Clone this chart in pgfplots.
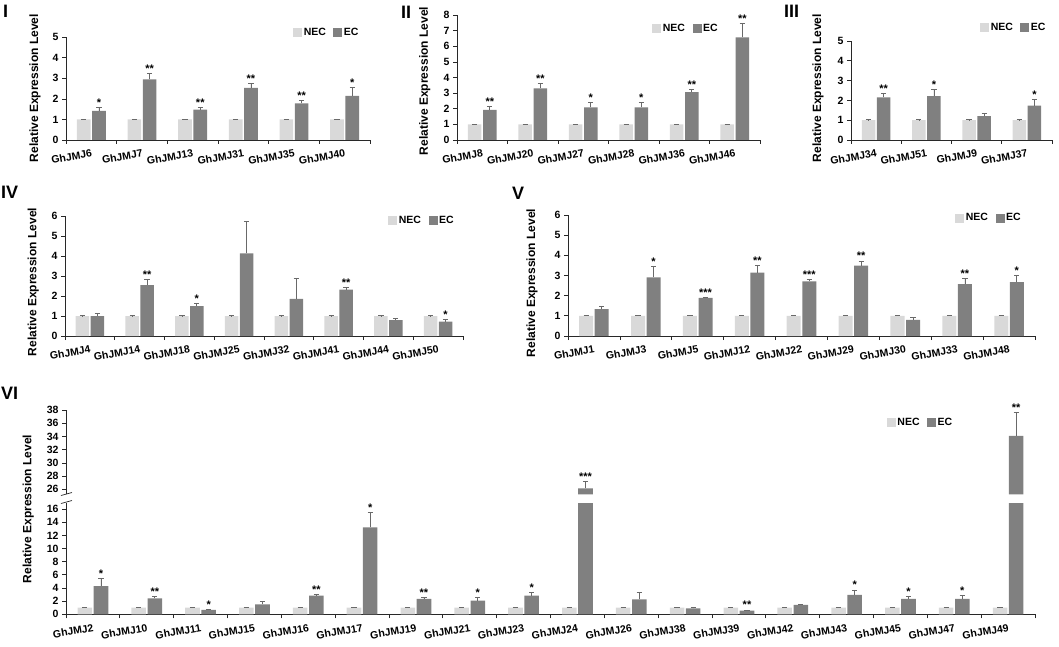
\documentclass[border=0pt]{standalone}
\usepackage{pgfplots}
\pgfplotsset{compat=1.18}
\usepackage{pgfplotstable}
\usepackage{fontspec}
\setmainfont{Liberation Sans}
\definecolor{necc}{RGB}{217,217,217}
\definecolor{ecc}{RGB}{128,128,128}
\definecolor{errc}{RGB}{105,105,105}
\definecolor{axc}{RGB}{40,40,40}

\pgfplotstableread{
x nec necerr ec ecerr sig
0 1 0.02 1.42 0.16 *
1 1 0.02 2.95 0.29 **
2 1 0.02 1.48 0.10 **
3 1 0.02 2.54 0.21 **
4 1 0.02 1.78 0.13 **
5 1 0.02 2.15 0.41 *
}\tabI
\pgfplotstableread{
x nec necerr ec ecerr sig
0 1 0.02 1.92 0.21 **
1 1 0.02 3.30 0.32 **
2 1 0.02 2.09 0.32 *
3 1 0.02 2.09 0.32 *
4 1 0.02 3.07 0.17 **
5 1 0.02 6.57 0.90 **
}\tabII
\pgfplotstableread{
x nec necerr ec ecerr sig
0 1 0.02 2.15 0.21 **
1 1 0.02 2.21 0.33 *
2 1 0.02 1.21 0.14 {}
3 1 0.02 1.73 0.32 *
}\tabIII
\pgfplotstableread{
x nec necerr ec ecerr sig
0 1 0.02 1.00 0.12 {}
1 1 0.02 2.54 0.29 **
2 1 0.02 1.49 0.13 *
3 1 0.02 4.13 1.62 {}
4 1 0.02 1.86 1.02 {}
5 1 0.02 2.32 0.12 **
6 1 0.02 0.79 0.11 {}
7 1 0.02 0.72 0.10 *
}\tabIV
\pgfplotstableread{
x nec necerr ec ecerr sig
0 1 0.02 1.33 0.15 {}
1 1 0.02 2.91 0.53 *
2 1 0.02 1.89 0.04 ***
3 1 0.02 3.14 0.35 **
4 1 0.02 2.71 0.10 ***
5 1 0.02 3.49 0.23 **
6 1 0.02 0.80 0.13 {}
7 1 0.02 2.57 0.29 **
8 1 0.02 2.67 0.34 *
}\tabV
\pgfplotstableread{
x nec necerr ec ecerr sig sigu
0 1 0.05 4.30 1.12 * {}
1 1 0.05 2.43 0.25 ** {}
2 1 0.05 0.66 0.10 * {}
3 1 0.05 1.52 0.40 {} {}
4 1 0.05 2.84 0.20 ** {}
5 1 0.05 13.20 2.30 * {}
6 1 0.05 2.33 0.20 ** {}
7 1 0.05 2.08 0.50 * {}
8 1 0.05 2.84 0.45 * {}
9 1 0.05 26.15 1.05 {} ***
10 1 0.05 2.28 1.01 {} {}
11 1 0.05 0.91 0.15 {} {}
12 1 0.05 0.56 0.10 ** {}
13 1 0.05 1.42 0.10 {} {}
14 1 0.05 2.94 0.76 * {}
15 1 0.05 2.33 0.35 * {}
16 1 0.05 2.33 0.51 * {}
17 1 0.05 34.07 3.53 {} **
}\tabVI

\pgfplotsset{
  jmj/.style={
    scale only axis, axis lines*=left, tick align=outside,
    ymin=0, xmin=-0.5, enlargelimits=false, clip mode=individual,
    axis line style={line width=0.7pt, axc},
    every tick/.style={axc, line width=0.7pt},
    major tick length=4pt, minor tick length=4pt,
    ytick pos=left, xtick pos=bottom,
    major x tick style={draw=none},
    tick label style={font=\fontsize{10.5}{12}\selectfont\bfseries},
    /pgf/number format/assume math mode=true,
    xticklabel style={rotate=10, anchor=north east, inner sep=1pt, yshift=-4pt},
    ylabel={Relative Expression Level},
    label style={font=\fontsize{12}{14}\selectfont\bfseries},
    ylabel style={anchor=center},
    legend style={draw=none, fill=none, anchor=west, inner sep=0pt,
      font=\fontsize{10.5}{12}\selectfont\bfseries,
      nodes={inner sep=1.5pt},
      /tikz/every even column/.append style={column sep=6pt}},
    legend columns=2,
    legend image code/.code={\fill[##1] (0pt,-4.5pt) rectangle (9pt,4.5pt);},
  },
  errsty/.style={error bars/y dir=plus, error bars/y explicit,
    error bars/error bar style={errc, line width=0.7pt},
    error bars/error mark=|,
    error bars/error mark options={errc, line width=0.7pt, mark size=2.6pt}},
  necbar/.style={ybar, bar width=0.27, bar shift=0, fill=necc, draw=none, errsty},
  ecbar/.style={ybar, bar width=0.27, bar shift=0, fill=ecc, draw=none, errsty},
  sigplot/.style={draw=none, mark=none, forget plot, nodes near coords,
    point meta=explicit symbolic,
    every node near coord/.style={anchor=south, inner sep=0.8pt, black,
      font=\fontsize{11}{12}\selectfont\bfseries}},
}

\begin{document}
\begin{tikzpicture}
\useasboundingbox (0,0) rectangle (1059pt,-647pt);
\tikzset{plab/.style={anchor=north west, inner sep=0pt, font=\fontsize{18}{20}\selectfont\bfseries}}

% ---------- I ----------
\begin{axis}[jmj, at={(66pt,-140pt)}, anchor=south west, width=304pt, height=102.7pt,
  xmax=5.5, ymax=5, ytick={0,...,5}, xtick={0,...,5}, minor xtick={-0.5,0.5,...,5.5},
  xticklabels={GhJMJ6,GhJMJ7,GhJMJ13,GhJMJ31,GhJMJ35,GhJMJ40},
  ylabel style={at={(axis description cs:-0.102,0.506)}},
  legend style={at={(axis description cs:0.747,1.047)}}]
\addplot[necbar] table[x expr=\thisrow{x}-0.15,y=nec,y error=necerr]{\tabI};
\addplot[ecbar] table[x expr=\thisrow{x}+0.15,y=ec,y error=ecerr]{\tabI};
\addplot[sigplot] table[x expr=\thisrow{x}+0.15, y expr=\thisrow{ec}+\thisrow{ecerr}, meta=sig]{\tabI};
\legend{NEC,EC}
\end{axis}

% ---------- II ----------
\begin{axis}[jmj, at={(457pt,-140pt)}, anchor=south west, width=303pt, height=125pt,
  xmax=5.5, ymax=8, ytick={0,...,8}, xtick={0,...,5}, minor xtick={-0.5,0.5,...,5.5},
  xticklabels={GhJMJ8,GhJMJ20,GhJMJ27,GhJMJ28,GhJMJ36,GhJMJ46},
  ylabel style={at={(axis description cs:-0.106,0.472)}},
  legend style={at={(axis description cs:0.644,0.888)}}]
\addplot[necbar] table[x expr=\thisrow{x}-0.15,y=nec,y error=necerr]{\tabII};
\addplot[ecbar] table[x expr=\thisrow{x}+0.15,y=ec,y error=ecerr]{\tabII};
\addplot[sigplot] table[x expr=\thisrow{x}+0.15, y expr=\thisrow{ec}+\thisrow{ecerr}, meta=sig]{\tabII};
\legend{NEC,EC}
\end{axis}

% ---------- III ----------
\begin{axis}[jmj, at={(851pt,-140pt)}, anchor=south west, width=201pt, height=99pt,
  xmax=3.5, ymax=5, ytick={0,...,5}, xtick={0,...,3}, minor xtick={-0.5,0.5,...,3.5},
  xticklabels={GhJMJ34,GhJMJ51,GhJMJ9,GhJMJ37},
  ylabel style={at={(axis description cs:-0.164,0.525)}},
  legend style={at={(axis description cs:0.642,1.136)}}]
\addplot[necbar] table[x expr=\thisrow{x}-0.15,y=nec,y error=necerr]{\tabIII};
\addplot[ecbar] table[x expr=\thisrow{x}+0.15,y=ec,y error=ecerr]{\tabIII};
\addplot[sigplot] table[x expr=\thisrow{x}+0.15, y expr=\thisrow{ec}+\thisrow{ecerr}, meta=sig]{\tabIII};
\legend{NEC,EC}
\end{axis}

% ---------- IV ----------
\begin{axis}[jmj, at={(65pt,-336pt)}, anchor=south west, width=398pt, height=120pt,
  xmax=7.5, ymax=6, ytick={0,...,6}, xtick={0,...,7}, minor xtick={-0.5,0.5,...,7.5},
  xticklabels={GhJMJ4,GhJMJ14,GhJMJ18,GhJMJ25,GhJMJ32,GhJMJ41,GhJMJ44,GhJMJ50},
  ylabel style={at={(axis description cs:-0.080,0.45)}},
  legend style={at={(axis description cs:0.812,0.9625)}}]
\addplot[necbar] table[x expr=\thisrow{x}-0.15,y=nec,y error=necerr]{\tabIV};
\addplot[ecbar] table[x expr=\thisrow{x}+0.15,y=ec,y error=ecerr]{\tabIV};
\addplot[sigplot] table[x expr=\thisrow{x}+0.15, y expr=\thisrow{ec}+\thisrow{ecerr}, meta=sig]{\tabIV};
\legend{NEC,EC}
\end{axis}

% ---------- V ----------
\begin{axis}[jmj, at={(568pt,-336pt)}, anchor=south west, width=467pt, height=121pt,
  xmax=8.5, ymax=6, ytick={0,...,6}, xtick={0,...,8}, minor xtick={-0.5,0.5,...,8.5},
  xticklabels={GhJMJ1,GhJMJ3,GhJMJ5,GhJMJ12,GhJMJ22,GhJMJ29,GhJMJ30,GhJMJ33,GhJMJ48},
  ylabel style={at={(axis description cs:-0.077,0.438)}},
  legend style={at={(axis description cs:0.829,0.975)}}]
\addplot[necbar] table[x expr=\thisrow{x}-0.15,y=nec,y error=necerr]{\tabV};
\addplot[ecbar] table[x expr=\thisrow{x}+0.15,y=ec,y error=ecerr]{\tabV};
\addplot[sigplot] table[x expr=\thisrow{x}+0.15, y expr=\thisrow{ec}+\thisrow{ecerr}, meta=sig]{\tabV};
\legend{NEC,EC}
\end{axis}

% ---------- VI lower ----------
\begin{axis}[jmj, at={(66pt,-614.3pt)}, anchor=south west, width=969pt, height=111pt,
  xmax=17.5, ymax=16.87, ytick={0,2,...,16}, xtick={0,...,17}, minor xtick={-0.5,0.5,...,17.5},
  xticklabels={GhJMJ2,GhJMJ10,GhJMJ11,GhJMJ15,GhJMJ16,GhJMJ17,GhJMJ19,GhJMJ21,GhJMJ23,GhJMJ24,GhJMJ26,GhJMJ38,GhJMJ39,GhJMJ42,GhJMJ43,GhJMJ45,GhJMJ47,GhJMJ49},
  ylabel style={at={(axis description cs:-0.039,0.949)}}]
\addplot[necbar] table[x expr=\thisrow{x}-0.15,y=nec,y error=necerr]{\tabVI};
\addplot[ecbar, restrict y to domain=0:20] table[x expr=\thisrow{x}+0.15,y=ec,y error=ecerr]{\tabVI};
\addplot[ecbar, error bars/y dir=none, restrict y to domain=20:40] table[x expr=\thisrow{x}+0.15,y=ec]{\tabVI};
\addplot[sigplot] table[x expr=\thisrow{x}+0.15, y expr=\thisrow{ec}+\thisrow{ecerr}, meta=sig]{\tabVI};
\end{axis}

% ---------- VI upper ----------
\begin{axis}[jmj, at={(66pt,-494.3pt)}, anchor=south west, width=969pt, height=84.3pt,
  xmax=17.5, ymin=25.24, ymax=38, ytick={26,28,...,38}, xtick=\empty, minor xtick={},
  x axis line style={draw=none}, ylabel={},
  legend style={at={(axis description cs:0.847,0.852)}}]
\addlegendimage{fill=necc, draw=none}
\addlegendentry{NEC}
\addplot[ecbar, restrict y to domain=25:40] table[x expr=\thisrow{x}+0.15,y=ec,y error=ecerr]{\tabVI};
\addlegendentry{EC}
\addplot[sigplot] table[x expr=\thisrow{x}+0.15, y expr=\thisrow{ec}+\thisrow{ecerr}, meta=sigu]{\tabVI};
\end{axis}

% axis break marks
\draw[axc, line width=0.7pt] (61pt,-495.5pt) -- (72pt,-492.5pt);
\draw[axc, line width=0.7pt] (61pt,-503.5pt) -- (72pt,-500.5pt);

% panel labels
\node[plab] at (3pt,-5pt) {I};
\node[plab] at (401pt,-6pt) {II};
\node[plab] at (784pt,-5pt) {III};
\node[plab] at (1pt,-186pt) {IV};
\node[plab] at (512pt,-187pt) {V};
\node[plab] at (1pt,-387pt) {VI};
\end{tikzpicture}
\end{document}
